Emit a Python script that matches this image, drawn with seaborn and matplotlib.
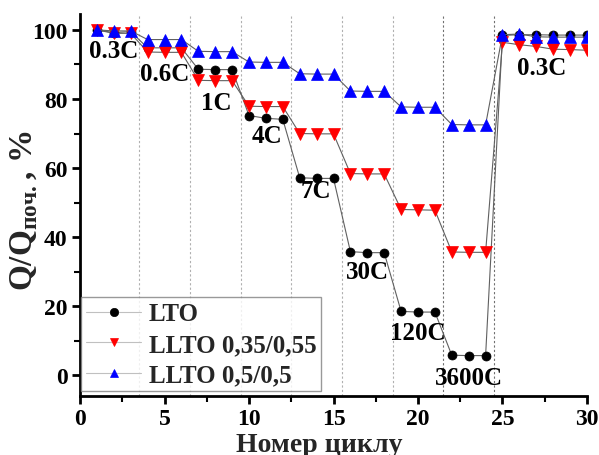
import matplotlib
matplotlib.use("Agg")
import matplotlib.pyplot as plt
import seaborn as sns
import pandas as pd
from matplotlib.ticker import MultipleLocator

# Cycle numbers and relative capacity (%) for each material
cycles = list(range(1, 31))
lto = [100.0, 99.2, 99.5, 94.8, 94.8, 94.8, 88.6, 88.5, 88.5, 75.2, 74.4, 74.1,
       57.2, 57.0, 57.0, 35.8, 35.5, 35.5, 18.5, 18.3, 18.3, 5.8, 5.7, 5.7,
       98.4, 98.6, 98.6, 98.5, 98.5, 98.5]
llto_035 = [100.0, 99.0, 99.0, 93.6, 93.5, 93.5, 85.4, 85.3, 85.3, 77.9, 77.8, 77.8,
            70.0, 69.9, 69.9, 58.4, 58.3, 58.3, 48.0, 47.9, 47.8, 35.7, 35.6, 35.6,
            96.4, 95.7, 95.2, 94.4, 94.3, 94.1]
llto_05 = [100.0, 99.7, 99.7, 97.2, 97.2, 97.2, 93.8, 93.7, 93.7, 90.7, 90.6, 90.6,
           87.3, 87.2, 87.2, 82.3, 82.2, 82.2, 77.7, 77.6, 77.6, 72.6, 72.5, 72.5,
           98.6, 98.8, 98.0, 97.9, 97.9, 97.9]

series_names = ["LTO", "LLTO 0,35/0,55", "LLTO 0,5/0,5"]
series_colors = ["black", "red", "blue"]
series_markers = ["o", "v", "^"]
series_sizes = [6.5, 8, 8]

# Rate labels and their anchor positions (cycle, %)
rate_labels = ["0.3C", "0.6C", "1C", "4C", "7C", "30C", "120C", "3600C", "0.3C"]
rate_x = [2.0, 5.0, 8.05, 11.05, 13.95, 17.0, 20.0, 23.0, 27.3]
rate_y = [94.0, 87.5, 79.0, 69.3, 53.6, 30.1, 12.5, -0.5, 89.0]

# Boundaries between rate blocks
light_bounds = [3.5, 6.5, 9.5, 12.5, 15.5, 18.5]
dark_bounds = [21.5, 24.5]

sns.set_theme(style="ticks")
plt.rcParams["font.family"] = ["Liberation Serif", "DejaVu Serif"]
plt.rcParams["font.weight"] = "bold"
plt.rcParams["mathtext.fontset"] = "custom"
plt.rcParams["mathtext.rm"] = "Liberation Serif:bold"
plt.rcParams["mathtext.bf"] = "Liberation Serif:bold"

df = pd.DataFrame({"cycle": cycles, series_names[0]: lto,
                   series_names[1]: llto_035, series_names[2]: llto_05})

fig = plt.figure(figsize=(5.99, 4.56), dpi=100)
ax = fig.add_axes([80 / 599, 1 - 397 / 456, 507 / 599, (397 - 15) / 456])

for xb in light_bounds:
    ax.axvline(xb, color="#b0b0b0", lw=0.8, ls=(0, (2, 2)), zorder=0)
for xb in dark_bounds:
    ax.axvline(xb, color="#707070", lw=0.8, ls=(0, (2, 2)), zorder=0)

for name, col, mk, ms in zip(series_names, series_colors, series_markers, series_sizes):
    sns.lineplot(data=df, x="cycle", y=name, ax=ax, color="#606060", lw=0.8,
                 marker=mk, markersize=ms, markerfacecolor=col,
                 markeredgecolor=col, markeredgewidth=0.5, label=name)

for txt, tx, ty in zip(rate_labels, rate_x, rate_y):
    ax.text(tx, ty, txt, ha="center", va="center", fontsize=18,
            fontweight="bold", color="black")

ax.set_xlim(0, 30)
ax.set_ylim(-6, 104.6)
ax.xaxis.set_major_locator(MultipleLocator(5))
ax.xaxis.set_minor_locator(MultipleLocator(2.5))
ax.yaxis.set_major_locator(MultipleLocator(20))
ax.yaxis.set_minor_locator(MultipleLocator(10))

sns.despine(ax=ax, top=True, right=True)
for side in ["left", "bottom"]:
    ax.spines[side].set_linewidth(2)
    ax.spines[side].set_color("black")
ax.tick_params(which="major", direction="out", length=6, width=2,
               labelsize=17, color="black", labelcolor="black", pad=3)
ax.tick_params(which="minor", direction="out", length=4, width=1.5, color="black")
for lab in ax.get_xticklabels() + ax.get_yticklabels():
    lab.set_fontweight("bold")

ax.set_xlabel("Номер циклу", fontsize=20, fontweight="bold", labelpad=1)
ax.xaxis.set_label_coords(0.472, -0.095)
ax.xaxis.label.set_va("top")
ax.set_ylabel(r"Q/Q$_{\mathbf{поч.}}$, %", fontsize=24, fontweight="bold")
ax.yaxis.set_label_coords(-0.078, 0.487)

leg = ax.legend(loc="lower left", bbox_to_anchor=(0.002, 0.012), borderaxespad=0,
                fontsize=18, frameon=True, fancybox=False, handlelength=2.2,
                handletextpad=0.3, labelspacing=0.3, borderpad=0.2)
leg.get_frame().set_edgecolor("#808080")
leg.get_frame().set_linewidth(1)
for t in leg.get_texts():
    t.set_fontweight("bold")
for h in leg.legend_handles:
    h.set_color("#c0c0c0")
    h.set_markersize(6)

fig.savefig("out.png", dpi=100)
